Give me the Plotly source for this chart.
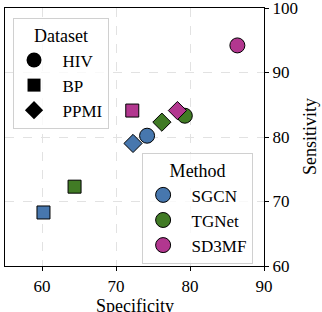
import plotly.graph_objects as go

methods = ["SGCN", "TGNet", "SD3MF"]
datasets = ["HIV", "BP", "PPMI"]
colors = {"SGCN": "#4777AE", "TGNet": "#417B25", "SD3MF": "#B2378F"}
symbols = {"HIV": "circle", "BP": "square", "PPMI": "diamond"}
msize = {"HIV": 15, "BP": 13, "PPMI": 14}

x_title = "Specificity"
y_title = "Sensitivity"

specificity = {
    "SGCN": [74.2, 60.2, 72.3],
    "TGNet": [79.3, 64.4, 76.2],
    "SD3MF": [86.4, 72.2, 78.3],
}
sensitivity = {
    "SGCN": [80.2, 68.3, 79.0],
    "TGNet": [83.3, 72.3, 82.3],
    "SD3MF": [94.2, 84.1, 84.1],
}

FONT = "Liberation Serif, DejaVu Serif, Times New Roman, serif"
fig = go.Figure()

for m in methods:
    for i, d in enumerate(datasets):
        fig.add_trace(go.Scatter(
            x=[specificity[m][i]], y=[sensitivity[m][i]], mode="markers",
            marker=dict(symbol=symbols[d], size=msize[d], color=colors[m],
                        line=dict(color="black", width=1)),
            showlegend=False, hoverinfo="skip"))

PAD = "\u00a0\u00a0"
for d in datasets:
    fig.add_trace(go.Scatter(
        x=[None], y=[None], mode="markers", name=PAD + d, legend="legend",
        marker=dict(symbol=symbols[d], size=msize[d], color="black")))

for m in methods:
    fig.add_trace(go.Scatter(
        x=[None], y=[None], mode="markers", name=PAD + m, legend="legend2",
        marker=dict(symbol="circle", size=15, color=colors[m],
                    line=dict(color="black", width=1))))

legend_common = dict(
    bgcolor="rgba(255,255,255,0.8)", bordercolor="#d0d0d0", borderwidth=1,
    font=dict(family=FONT, size=17, color="black"),
    itemsizing="trace", itemwidth=30,
)

fig.update_layout(
    width=322, height=312,
    margin=dict(l=5, r=58, t=8, b=46),
    plot_bgcolor="white", paper_bgcolor="white",
    font=dict(family=FONT, size=17, color="black"),
    legend=dict(**legend_common, x=0.031, y=0.961, xanchor="left", yanchor="top",
                title=dict(text="Dataset", side="top center",
                           font=dict(family=FONT, size=18))),
    legend2=dict(**legend_common, x=0.958, y=0.008, xanchor="right", yanchor="bottom",
                 title=dict(text="Method", side="top center",
                            font=dict(family=FONT, size=18))),
    xaxis=dict(range=[55, 90], tickvals=[60, 70, 80, 90], automargin=False,
               showline=True, linecolor="black", linewidth=1.2, mirror=True,
               ticks="outside", ticklen=4, tickcolor="black", ticklabeloverflow="allow",
               showgrid=True, gridcolor="#e2e2e2", griddash="dash", zeroline=False),
    yaxis=dict(range=[60, 100], tickvals=[60, 70, 80, 90, 100], side="right",
               automargin=False,
               showline=True, linecolor="black", linewidth=1.2, mirror=True,
               ticks="outside", ticklen=4, tickcolor="black", ticklabeloverflow="allow",
               showgrid=True, gridcolor="#e2e2e2", griddash="dash", zeroline=False),
    annotations=[
        dict(text=x_title, xref="paper", yref="paper", x=0.5, y=0,
             yshift=-40, xanchor="center", yanchor="middle", showarrow=False,
             font=dict(family=FONT, size=18, color="black")),
        dict(text=y_title, xref="paper", yref="paper", x=1, y=0.5,
             xshift=46, xanchor="center", yanchor="middle", textangle=-90,
             showarrow=False, font=dict(family=FONT, size=18, color="black")),
    ],
)

fig.write_html("out.html", config={"displayModeBar": False},
               post_script="document.body.style.margin='0';")
